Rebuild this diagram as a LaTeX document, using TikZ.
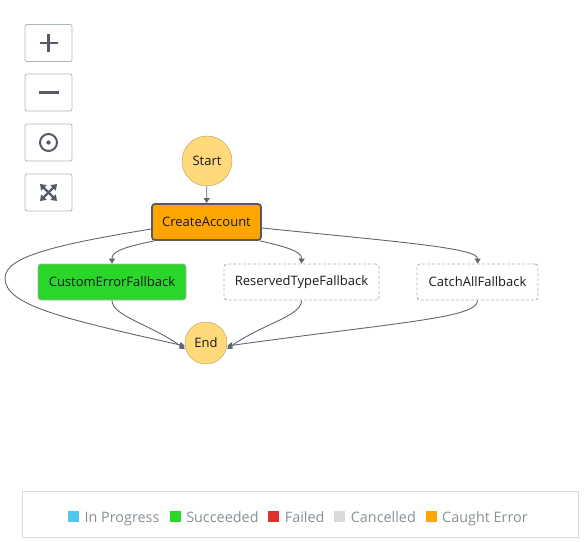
\documentclass[tikz,border=0pt]{standalone}
\usepackage{fontspec}
\setmainfont{Open Sans}
\usetikzlibrary{arrows.meta,positioning}
\definecolor{inkgray}{HTML}{545B64}
\definecolor{edgegray}{HTML}{5F6670}
\definecolor{btnline}{HTML}{AAB7B8}
\definecolor{termfill}{HTML}{FFD97A}
\definecolor{termline}{HTML}{B89A55}
\definecolor{caught}{HTML}{FFA500}
\definecolor{succ}{HTML}{2BD62B}
\definecolor{succline}{HTML}{6B7A6B}
\definecolor{inprog}{HTML}{50C8EE}
\definecolor{failed}{HTML}{DE322F}
\definecolor{cancel}{HTML}{D9D9D9}
\definecolor{lgdtext}{HTML}{879196}
\definecolor{lgdline}{HTML}{D5DBDB}
\definecolor{nodetext}{HTML}{16191F}

\begin{document}
\begin{tikzpicture}[x=1pt, y=-1pt, state/.style={rounded corners=3pt, minimum height=36pt, inner sep=0pt, align=center, font=\fontsize{13}{15}\selectfont, text=nodetext}, pending/.style={state, draw=btnline, dashed, line width=0.9pt, dash pattern=on 3pt off 2pt, fill=white}, term/.style={circle, draw=termline, fill=termfill, inner sep=0pt, font=\fontsize{13}{15}\selectfont, text=nodetext}, arr/.style={-{Triangle[width=6pt,length=5pt]}, edgegray, line width=0.9pt}, btn/.style={draw=btnline, rounded corners=2pt, minimum width=47pt, minimum height=37pt, line width=0.8pt}, icon/.style={inkgray, line width=2.2pt}, sq/.style={minimum size=11pt, inner sep=0pt, anchor=west}, lgd/.style={font=\fontsize{14.4}{16}\selectfont, text=lgdtext, inner sep=0pt, anchor=base west}]
\useasboundingbox (0,0) rectangle (588,541);
% zoom and fit buttons
\node[btn] (zin) at (48.5,43) {}; \node[btn] (zout) at (48.5,92.5) {}; \node[btn] (zctr) at (48.5,142.5) {}; \node[btn] (zfit) at (48.5,192.5) {};
\draw[icon] ([xshift=-9pt]zin.center) -- ([xshift=9pt]zin.center) ([yshift=-9pt]zin.center) -- ([yshift=9pt]zin.center); \draw[icon] ([xshift=-10pt]zout.center) -- ([xshift=10pt]zout.center);
\draw[icon, line width=2pt] (zctr.center) circle (8.5pt); \fill[inkgray] (zctr.center) circle (2.2pt);
\foreach \dx/\dy in {1/1,1/-1,-1/1,-1/-1} \draw[inkgray, line width=2.4pt, -{Triangle[width=7.5pt,length=5.5pt]}] (zfit.center) -- ([xshift=\dx*8.5pt, yshift=\dy*8.5pt]zfit.center);
% state machine
\node[term, minimum size=50pt] (start) at (207,161) {Start}; \node[state, draw=inkgray, line width=1.8pt, fill=caught, minimum width=109pt] (create) at (206.5,222) {CreateAccount};
\node[state, draw=succline!60, line width=0.8pt, fill=succ, minimum width=148pt] (custom) at (112,282) {CustomErrorFallback}; \node[pending, minimum width=155pt] (reserved) at (301.5,282) {ReservedTypeFallback}; \node[pending, minimum width=121pt] (catchall) at (477.5,282) {CatchAllFallback};
\node[term, minimum size=42pt] (end) at (206,343) {End};
\draw[arr] (start) -- (create); \draw[arr] ([xshift=3pt]create.south west) .. controls (120,248) and (112,252) .. (custom.north); \draw[arr] ([xshift=-2pt]create.south east) .. controls (288,247) and (302,252) .. (reserved.north);
\draw[arr] ([yshift=-6pt]create.east) .. controls (400,242) and (478,248) .. (catchall.north); \draw[arr] ([yshift=-7pt]create.west) .. controls (60,244) and (5,256) .. (5,278) .. controls (5,305) and (60,318) .. ([yshift=-3pt]end.west);
\draw[arr] (custom.south) .. controls (112,316) and (150,324) .. ([yshift=-6pt]end.west); \draw[arr] (reserved.south) .. controls (302,316) and (262,324) .. ([yshift=-6pt]end.east); \draw[arr] (catchall.south) .. controls (478,318) and (400,322) .. ([yshift=-3pt]end.east);
% legend
\node[draw=lgdline, line width=0.8pt, minimum width=556pt, minimum height=46pt, inner sep=0pt] (legend) at (300,514) {};
\node[sq, fill=inprog] (s1) at (68,516.5) {}; \node[lgd] (t1) at ([xshift=5pt]s1.south east) {In Progress}; \node[sq, fill=succ] (s2) at ([xshift=10pt]t1.east |- s1.center) {}; \node[lgd] (t2) at ([xshift=5pt]s2.south east) {Succeeded};
\node[sq, fill=failed] (s3) at ([xshift=9.5pt]t2.east |- s1.center) {}; \node[lgd] (t3) at ([xshift=5pt]s3.south east) {Failed}; \node[sq, fill=cancel] (s4) at ([xshift=9.5pt]t3.east |- s1.center) {}; \node[lgd] (t4) at ([xshift=5pt]s4.south east) {Cancelled};
\node[sq, fill=caught] (s5) at ([xshift=9.5pt]t4.east |- s1.center) {}; \node[lgd] (t5) at ([xshift=5pt]s5.south east) {Caught Error};
\end{tikzpicture}
\end{document}
